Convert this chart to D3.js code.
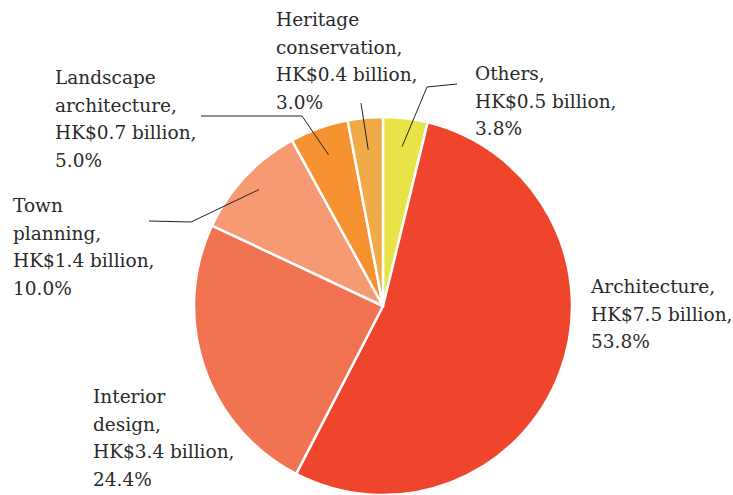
<!DOCTYPE html>
<html>
<head>
<meta charset="utf-8">
<script src="https://cdn.jsdelivr.net/npm/d3@7"></script>
<style>
  body { margin: 0; background: #fff; }
</style>
</head>
<body>
<div id="chart"></div>
<script>
"use strict";

const WIDTH = 733, HEIGHT = 495;

// slices, clockwise from 12 o'clock
var categories = ["Others", "Architecture", "Interior design", "Town planning", "Landscape architecture", "Heritage conservation"];
var values = [0.5, 7.5, 3.4, 1.4, 0.7, 0.4];          // HK$ billion
var shares = [3.8, 53.8, 24.4, 10.0, 5.0, 3.0];        // percent
var labelLines = [
  ["Others,", "HK$0.5 billion,", "3.8%"],
  ["Architecture,", "HK$7.5 billion,", "53.8%"],
  ["Interior", "design,", "HK$3.4 billion,", "24.4%"],
  ["Town", "planning,", "HK$1.4 billion,", "10.0%"],
  ["Landscape", "architecture,", "HK$0.7 billion,", "5.0%"],
  ["Heritage", "conservation,", "HK$0.4 billion,", "3.0%"]
];
var colors = ["#e8e347", "#ef452c", "#f27352", "#f69a74", "#f69230", "#f0ab48"];

// label placement (x, first baseline) and leader elbows
var labelPos = [
  { x: 475, y: 80,  elbow: [[427, 87], [457, 84]], r: 0.85 },
  { x: 591, y: 293, elbow: null },
  { x: 93,  y: 403, elbow: null },
  { x: 13,  y: 212, elbow: [[191, 222], [149, 221]], r: 0.9 },
  { x: 55,  y: 84,  elbow: [[302, 116], [201, 116]], r: 0.85 },
  { x: 276, y: 26,  elbow: [[361, 103]], r: 0.83 }
];

var cx = 383, cy = 306, R = 189;

var svg = d3.select("#chart").append("svg")
  .attr("width", WIDTH)
  .attr("height", HEIGHT);

var pie = d3.pie().sort(null).value(function(d) { return d; });
var arcs = pie(shares);

var arc = d3.arc().innerRadius(0).outerRadius(R);

var g = svg.append("g").attr("transform", "translate(" + cx + "," + cy + ")");

g.selectAll("path.slice")
  .data(arcs)
  .enter().append("path")
  .attr("class", "slice")
  .attr("d", arc)
  .attr("fill", function(d, i) { return colors[i]; })
  .attr("stroke", "#fff")
  .attr("stroke-width", 2.5)
  .attr("stroke-linejoin", "round");

// leader lines
arcs.forEach(function(d, i) {
  var p = labelPos[i];
  if (!p.elbow) return;
  var inner = d3.arc().innerRadius(R * p.r).outerRadius(R * p.r).centroid(d);
  var pts = [[inner[0] + cx, inner[1] + cy]].concat(p.elbow);
  svg.append("path")
    .attr("d", d3.line()(pts))
    .attr("fill", "none")
    .attr("stroke", "#222")
    .attr("stroke-width", 1);
});

// labels
labelLines.forEach(function(lines, i) {
  var p = labelPos[i];
  var t = svg.append("text")
    .attr("x", p.x)
    .attr("y", p.y)
    .style("font-family", "DejaVu Serif")
    .attr("fill", "#2a2a2a")
    .attr("font-size", 18.5);
  lines.forEach(function(s, j) {
    t.append("tspan")
      .attr("x", p.x)
      .attr("dy", j === 0 ? 0 : 27.5)
      .text(s);
  });
});
</script>
</body>
</html>
